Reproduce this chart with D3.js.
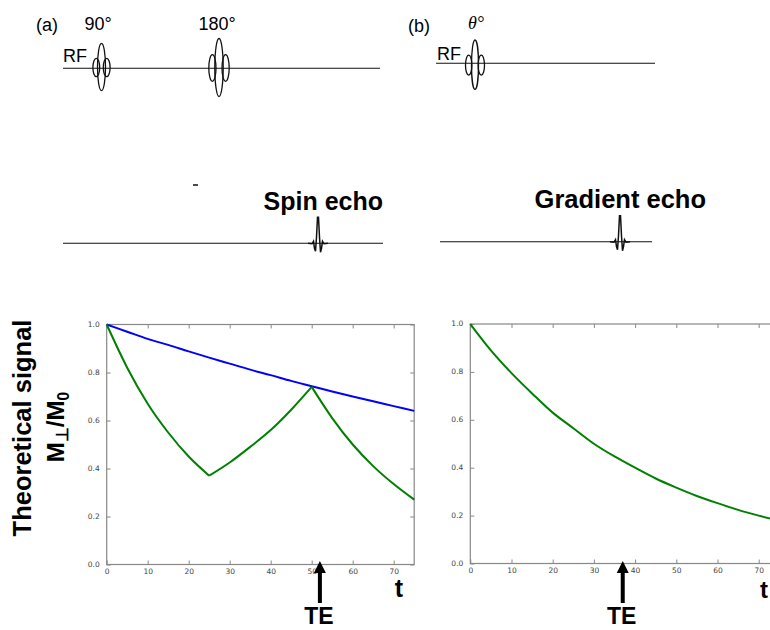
<!DOCTYPE html>
<html>
<head>
<meta charset="utf-8">
<script src="https://cdn.jsdelivr.net/npm/d3@7"></script>
<style>
  body { margin: 0; background: #fff; }
  svg { display: block; }
  .tick-label { font-family: "DejaVu Sans", sans-serif; font-size: 7.5px; fill: #444; }
  .bold { font-family: "Liberation Sans", Arial, sans-serif; font-weight: bold; fill: #000; }
  .plain { font-family: "Liberation Sans", Arial, sans-serif; fill: #000; }
</style>
</head>
<body>
<svg id="chart" width="770" height="630"></svg>
<script>
// time axis samples (both panels)
const tValues = [0, 5, 10, 15, 20, 25, 30, 35, 40, 45, 50, 55, 60, 65, 70, 75];
// spin echo panel: T2 envelope (blue) and T2* signal refocused at TE (green)
const spinT2 = [1.0, 0.97, 0.94, 0.915, 0.888, 0.862, 0.837, 0.812, 0.789, 0.765, 0.743, 0.721, 0.70, 0.68, 0.66, 0.64];
const spinSignal = [1.0, 0.82, 0.67, 0.55, 0.45, 0.37, 0.425, 0.49, 0.56, 0.645, 0.74, 0.61, 0.50, 0.41, 0.335, 0.27];
// the green curve has kinks at t = 25 and t = 50
const spinBreaks = [25, 50];
// gradient echo panel: T2* decay
const gradSignal = [1.0, 0.89, 0.795, 0.71, 0.63, 0.565, 0.50, 0.447, 0.40, 0.355, 0.317, 0.282, 0.252, 0.224, 0.20, 0.178];
// echo times marked by the arrows
const teSpin = 52;
const teGrad = 37;

const xTicks = [0, 10, 20, 30, 40, 50, 60, 70];
const yTicks = [0.0, 0.2, 0.4, 0.6, 0.8, 1.0];

const svg = d3.select("#chart");

// ---------- pulse sequence drawings (top) ----------
const ink = "#111";

function pulse(g, cx, cy, main, side) {
  // main lobe + two side lobes, like the RF sketch
  g.append("ellipse").attr("cx", cx).attr("cy", cy).attr("rx", main[0]).attr("ry", main[1])
    .attr("fill", "none").attr("stroke", ink).attr("stroke-width", 1.3);
  [-1, 1].forEach(s => {
    g.append("ellipse").attr("cx", cx + s * side[2]).attr("cy", cy + 0.5).attr("rx", side[0]).attr("ry", side[1])
      .attr("fill", "none").attr("stroke", ink).attr("stroke-width", 1.3);
  });
}

// echo waveform offsets (dx, dy) around the echo centre
const echoShape = [[-10, 0], [-6, 0.5], [-4.5, -2], [-3.5, 5], [-2.5, 8], [-1.5, -6], [-0.5, -26], [0.5, -26], [1.5, -6], [2.5, 9], [3.5, 5], [4.5, -2], [6, 0.5], [10, 0]];

function echo(g, cx, cy) {
  g.append("path")
    .attr("d", d3.line().curve(d3.curveLinear)(echoShape.map(p => [cx + p[0], cy + p[1]])))
    .attr("fill", "none").attr("stroke", ink).attr("stroke-width", 1.5);
}

const seq = svg.append("g");
// (a) spin echo sequence
seq.append("line").attr("x1", 63).attr("x2", 380).attr("y1", 68.3).attr("y2", 68.3).attr("stroke", ink).attr("stroke-width", 1.1);
pulse(seq, 101.5, 67, [4, 23.7], [3.4, 9.2, 5.2]);
pulse(seq, 219, 67.5, [4.2, 29], [3.6, 13.3, 6.6]);
seq.append("text").attr("class", "plain").attr("x", 36).attr("y", 31).attr("font-size", 18).text("(a)");
seq.append("text").attr("class", "plain").attr("x", 98).attr("y", 30).attr("font-size", 18).attr("text-anchor", "middle").text("90°");
seq.append("text").attr("class", "plain").attr("x", 217).attr("y", 30).attr("font-size", 18).attr("text-anchor", "middle").text("180°");
seq.append("text").attr("class", "plain").attr("x", 63).attr("y", 62).attr("font-size", 18).text("RF");

// (b) gradient echo sequence
seq.append("line").attr("x1", 436).attr("x2", 655).attr("y1", 63.3).attr("y2", 63.3).attr("stroke", ink).attr("stroke-width", 1.1);
pulse(seq, 475, 64.7, [3.5, 24.7], [3.2, 10, 6.3]);
seq.append("text").attr("class", "plain").attr("x", 408).attr("y", 32).attr("font-size", 18).text("(b)");
seq.append("text").attr("x", 476).attr("y", 29).attr("font-size", 18).attr("text-anchor", "middle")
  .attr("font-family", "Liberation Serif, serif").attr("font-style", "italic").text("θ°");
seq.append("text").attr("class", "plain").attr("x", 437).attr("y", 60).attr("font-size", 18).text("RF");

// echo signal lines
seq.append("line").attr("x1", 63).attr("x2", 383).attr("y1", 243.3).attr("y2", 243.3).attr("stroke", ink).attr("stroke-width", 1.1);
echo(seq, 318, 243.3);
seq.append("line").attr("x1", 193).attr("x2", 198).attr("y1", 185).attr("y2", 185).attr("stroke", ink).attr("stroke-width", 1.5);
seq.append("text").attr("class", "bold").attr("x", 383).attr("y", 210).attr("font-size", 25).attr("text-anchor", "end").text("Spin echo");

seq.append("line").attr("x1", 440).attr("x2", 652).attr("y1", 241.7).attr("y2", 241.7).attr("stroke", ink).attr("stroke-width", 1.1);
echo(seq, 620, 241.7);
seq.append("text").attr("class", "bold").attr("x", 706).attr("y", 208).attr("font-size", 25.5).attr("text-anchor", "end").text("Gradient echo");

// ---------- signal plots (bottom) ----------
function panel(x0, x1, y0, y1) {
  const x = d3.scaleLinear().domain([0, 75]).range([x0, x1]);
  const y = d3.scaleLinear().domain([0, 1]).range([y0, y1]);
  const g = svg.append("g");

  // frame
  g.append("rect").attr("x", x0).attr("y", y1).attr("width", x1 - x0).attr("height", y0 - y1)
    .attr("fill", "none").attr("stroke", "#888").attr("stroke-width", 1.2);

  // axes with inward ticks on all four sides
  const bottom = g.append("g").attr("transform", `translate(0,${y0})`)
    .call(d3.axisBottom(x).tickValues(xTicks).tickSize(-4).tickPadding(4).tickFormat(d3.format("d")));
  const topAx = g.append("g").attr("transform", `translate(0,${y1})`)
    .call(d3.axisTop(x).tickValues(xTicks).tickSize(-4).tickFormat(""));
  const left = g.append("g").attr("transform", `translate(${x0},0)`)
    .call(d3.axisLeft(y).tickValues(yTicks).tickSize(-4).tickPadding(4).tickFormat(d3.format(".1f")));
  const right = g.append("g").attr("transform", `translate(${x1},0)`)
    .call(d3.axisRight(y).tickValues(yTicks).tickSize(-4).tickFormat(""));

  [bottom, topAx, left, right].forEach(a => {
    a.select(".domain").remove();
    a.selectAll(".tick line").attr("stroke", "#888");
    a.selectAll(".tick text").attr("class", "tick-label").attr("fill", null);
  });
  left.selectAll(".tick text").attr("dx", "-0.4em").attr("dy", "0.2em");
  return { g, x, y };
}

function curve(p, ts, vs, color) {
  const line = d3.line().curve(d3.curveMonotoneX).x(d => p.x(d[0])).y(d => p.y(d[1]));
  p.g.append("path").datum(ts.map((t, i) => [t, vs[i]]))
    .attr("d", line).attr("fill", "none").attr("stroke", color).attr("stroke-width", 2);
}

function arrow(p, te, yTip, yTail) {
  const cx = p.x(te);
  p.g.append("line").attr("x1", cx).attr("x2", cx).attr("y1", yTip + 8).attr("y2", yTail)
    .attr("stroke", "#000").attr("stroke-width", 4);
  p.g.append("path")
    .attr("d", `M${cx},${yTip} L${cx - 6},${yTip + 12} L${cx + 6},${yTip + 12} Z`)
    .attr("fill", "#000");
  p.g.append("text").attr("class", "bold").attr("x", cx - 1).attr("y", 624).attr("font-size", 23)
    .attr("text-anchor", "middle").text("TE");
}

// left: spin echo
const pL = panel(106.7, 414.2, 564.5, 324.5);
curve(pL, tValues, spinT2, "#0000ff");
const cuts = [0, tValues.indexOf(spinBreaks[0]), tValues.indexOf(spinBreaks[1]), tValues.length - 1];
for (let k = 0; k < 3; k++) {
  curve(pL, tValues.slice(cuts[k], cuts[k + 1] + 1), spinSignal.slice(cuts[k], cuts[k + 1] + 1), "#008000");
}
arrow(pL, teSpin, 561, 603);
pL.g.append("text").attr("class", "bold").attr("x", 399).attr("y", 597).attr("font-size", 25)
  .attr("text-anchor", "middle").text("t");

// right: gradient echo (runs past the window edge)
const pR = panel(470.3, 779.3, 563.5, 324);
curve(pR, tValues, gradSignal, "#008000");
arrow(pR, teGrad, 561, 603);
pR.g.append("text").attr("class", "bold").attr("x", 764).attr("y", 598).attr("font-size", 24)
  .attr("text-anchor", "middle").text("t");

// y label
const yl = svg.append("g");
yl.append("text").attr("class", "bold").attr("font-size", 25.5).attr("text-anchor", "middle")
  .attr("transform", "translate(31,428) rotate(-90)").text("Theoretical signal");
const m = yl.append("text").attr("class", "bold").attr("font-size", 24).attr("text-anchor", "middle")
  .attr("transform", "translate(64,427) rotate(-90)");
m.append("tspan").text("M");
m.append("tspan").attr("font-size", 17).attr("dy", 4).text("⊥");
m.append("tspan").attr("dy", -4).text("/M");
m.append("tspan").attr("font-size", 16).attr("dy", 5).text("0");
</script>
</body>
</html>
